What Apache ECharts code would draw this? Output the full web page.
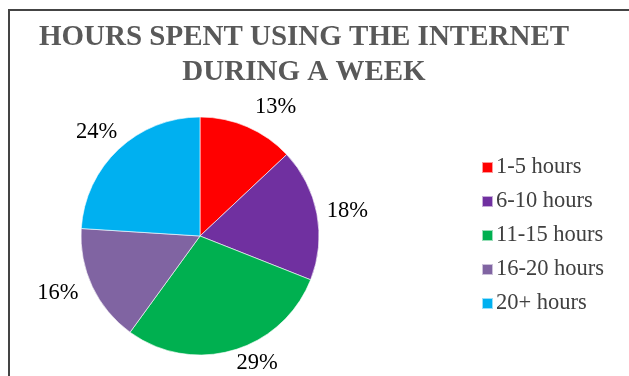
<!DOCTYPE html>
<html>
<head>
<meta charset="utf-8">
<script src="https://cdn.jsdelivr.net/npm/echarts@6/dist/echarts.min.js"></script>
<style>html,body{margin:0;padding:0;background:#fff}#c{width:629px;height:376px}</style>
</head>
<body>
<div id="c"></div>
<script>
const titleText = 'HOURS SPENT USING THE INTERNET\nDURING A WEEK';
const categories = ['1-5 hours', '6-10 hours', '11-15 hours', '16-20 hours', '20+ hours'];
const values = [13, 18, 29, 16, 24];
const colors = ['#FF0000', '#7030A0', '#00B050', '#8064A2', '#00B0F0'];
// small label nudges (style only)
const labelDx = [-2, -7, -5, 2, 12];
const labelDy = [-9, 0, 1, 1, -8];

const chart = echarts.init(document.getElementById('c'), null, {renderer: 'canvas'});
chart.setOption({
  animation: false,
  graphic: [{
    type: 'rect', silent: true, z: -1,
    shape: {x: 9, y: 10, width: 700, height: 500},
    style: {fill: 'none', stroke: '#444', lineWidth: 2}
  }],
  title: {
    text: titleText,
    left: 299, textAlign: 'center', top: 15,
    textStyle: {fontFamily: 'Liberation Serif', fontWeight: 'bold', fontSize: 29, color: '#595959', lineHeight: 35}
  },
  legend: {
    orient: 'vertical', left: 476, top: 151,
    icon: 'rect', itemWidth: 11, itemHeight: 11, itemGap: 11,
    data: categories,
    textStyle: {fontFamily: 'Liberation Serif', fontSize: 22.5, color: '#404040', padding: [0,0,0,-2]}
  },
  series: [{
    type: 'pie',
    center: [200, 236],
    radius: 119,
    startAngle: 90,
    clockwise: true,
    data: categories.map((c, i) => ({name: c, value: values[i], itemStyle: {color: colors[i]}})),
    itemStyle: {borderColor: 'rgba(255,255,255,0.6)', borderWidth: 1},
    label: {
      show: true, position: 'outside', formatter: '{c}%',
      fontFamily: 'Liberation Serif', fontSize: 22.5, color: '#000'
    },
    labelLine: {show: false, length: 12, length2: 0},
    labelLayout: p => ({dx: labelDx[p.dataIndex], dy: labelDy[p.dataIndex]})
  }]
});
</script>
</body>
</html>
